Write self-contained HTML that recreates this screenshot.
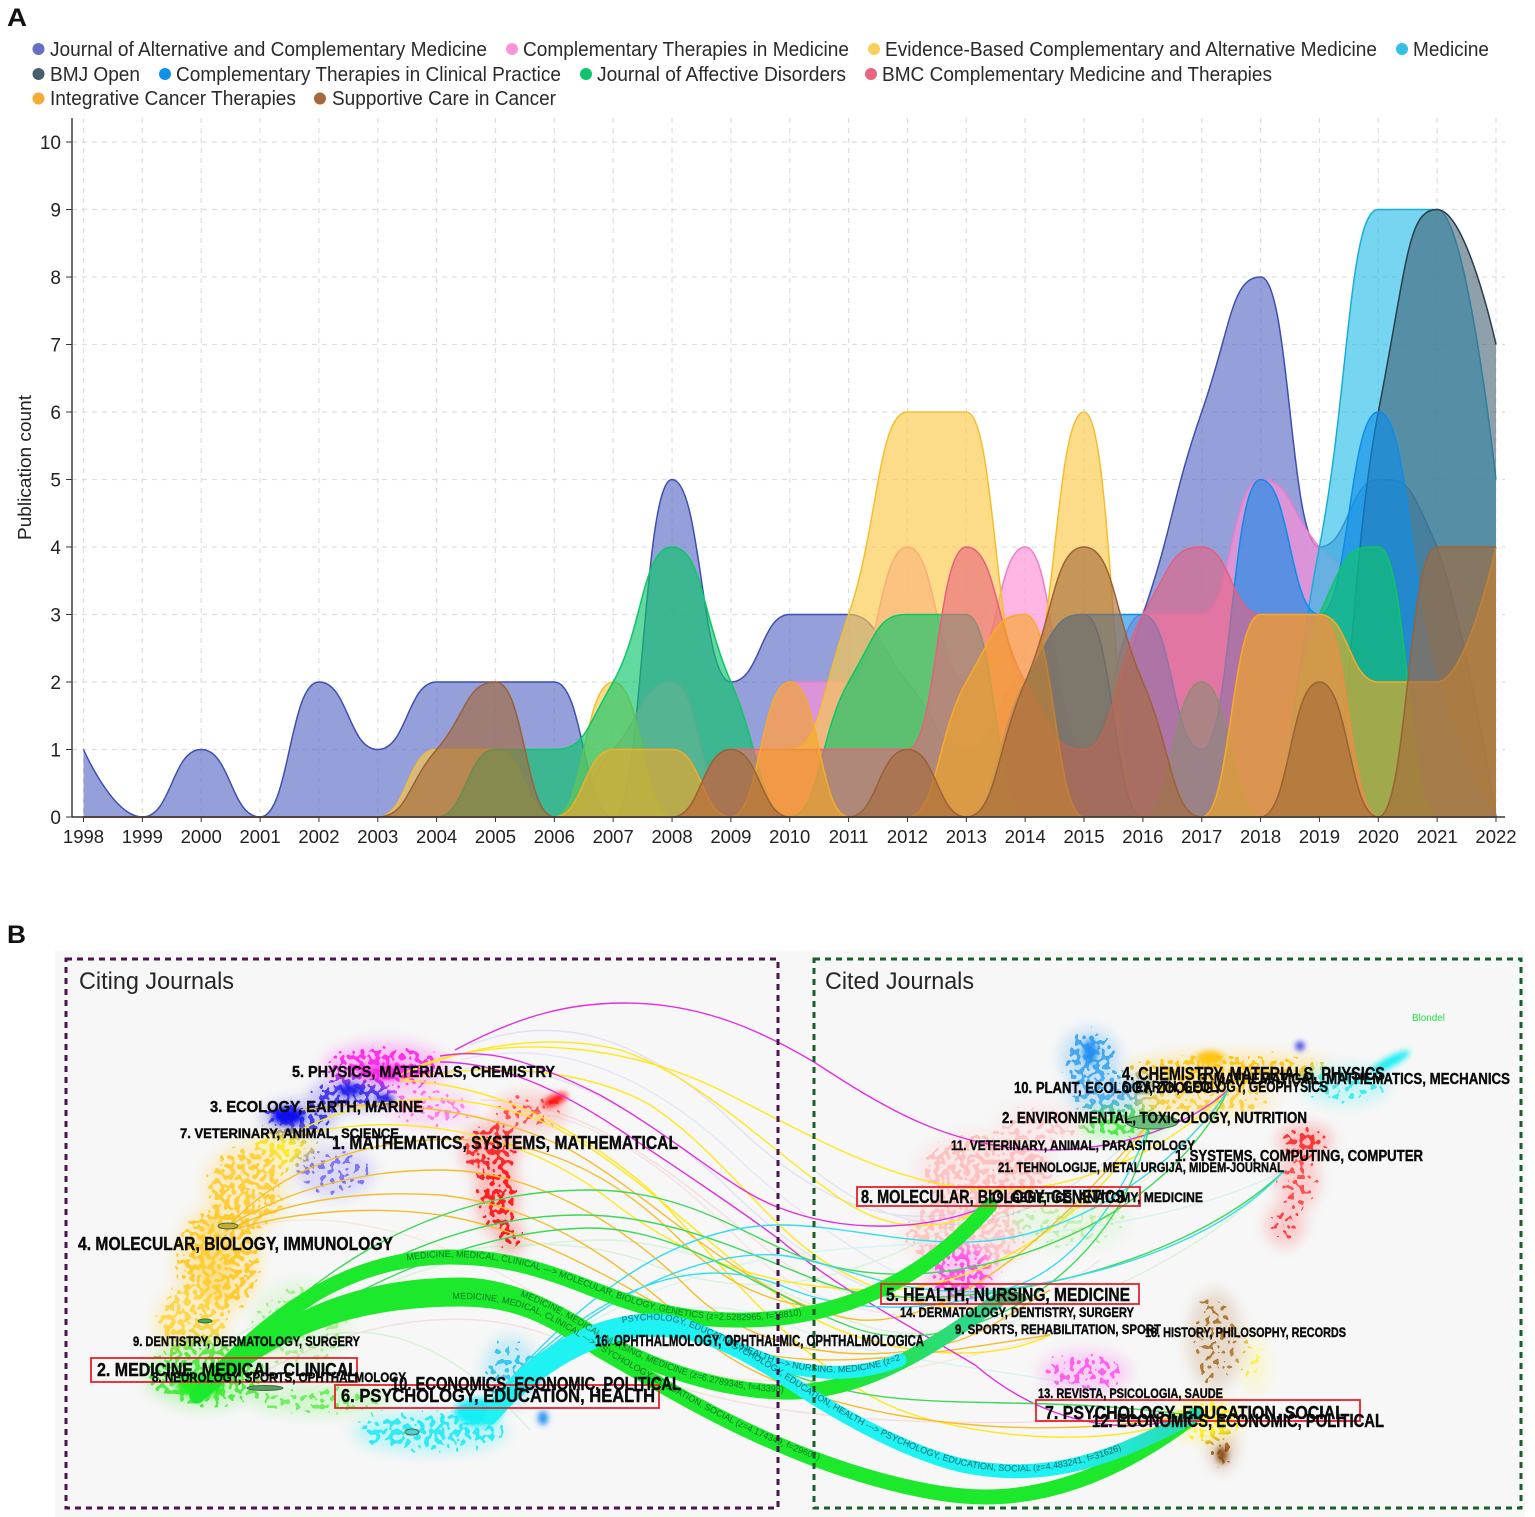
<!DOCTYPE html>
<html lang="en">
<head>
<meta charset="utf-8">
<title>Journal publication trends and dual-map overlay</title>
<style>
html,body{margin:0;padding:0;background:#fff;width:1535px;height:1517px;overflow:hidden}
svg{display:block;font-family:"Liberation Sans",sans-serif}
.lg{font-size:20px;fill:#2a2a2a}
.b{font-weight:bold;fill:#0b0b0b;stroke:#0b0b0b;stroke-width:.4px}
.big{font-size:18px}
.mid{font-size:15.5px}
.sm{font-size:13.5px}
.rt{fill:none;stroke:#e8202a;stroke-width:1.8}
.thin{fill:none;stroke-width:1.4}
.rib{fill:none;stroke-linecap:round}
.rt-text{font-size:9px;font-family:"Liberation Sans",sans-serif}
</style>
</head>
<body>
<svg id="figure" width="1535" height="1517" viewBox="0 0 1535 1517" xmlns="http://www.w3.org/2000/svg">
<defs>
<filter id="speckle" filterUnits="userSpaceOnUse" x="55" y="950" width="1470" height="567" color-interpolation-filters="sRGB">
<feGaussianBlur in="SourceGraphic" stdDeviation="7" result="soft"/>
<feColorMatrix in="soft" type="matrix" values="0 0 0 0 0  0 0 0 0 0  0 0 0 0 0  0 0 0 1 0" result="softA"/>
<feTurbulence type="fractalNoise" baseFrequency="0.2" numOctaves="1" seed="7" result="noise"/>
<feColorMatrix in="noise" type="matrix" values="0 0 0 0 0  0 0 0 0 0  0 0 0 0 0  0 0 0 1 0" result="noiseA"/>
<feComposite in="softA" in2="noiseA" operator="arithmetic" k1="0" k2="0.45" k3="1" k4="0" result="sum"/>
<feComponentTransfer in="sum" result="mask"><feFuncA type="discrete" tableValues="0 0 0 0 0 0 0 0 0 0 0 0 0 0 0 0 0 0 0 1"/></feComponentTransfer>
<feComponentTransfer in="soft" result="color"><feFuncA type="linear" slope="5"/></feComponentTransfer>
<feComposite in="color" in2="mask" operator="in" result="dotsOut"/>
<feComponentTransfer in="soft" result="pale"><feFuncA type="linear" slope="0.28"/></feComponentTransfer>
<feMerge><feMergeNode in="pale"/><feMergeNode in="dotsOut"/></feMerge>
</filter>
<filter id="soft3" filterUnits="userSpaceOnUse" x="55" y="950" width="1470" height="567"><feGaussianBlur stdDeviation="3"/></filter>
<linearGradient id="healthRibbon" gradientUnits="userSpaceOnUse" x1="840" y1="0" x2="980" y2="0"><stop offset="0" stop-color="#1ce82c"/><stop offset="1" stop-color="#30d890"/></linearGradient>
<linearGradient id="socialRibbon" gradientUnits="userSpaceOnUse" x1="1060" y1="0" x2="1180" y2="0"><stop offset="0" stop-color="#1ef2f2"/><stop offset="1" stop-color="#28dcb8"/></linearGradient>
</defs>

<text x="7" y="26" font-size="25" font-weight="bold" fill="#111" textLength="20" lengthAdjust="spacingAndGlyphs">A</text>
<text x="7" y="943" font-size="25" font-weight="bold" fill="#111" textLength="19" lengthAdjust="spacingAndGlyphs">B</text>

<g id="legend">
<g><circle cx="38.5" cy="49" r="6" fill="#6370c4"/><text class="lg" x="50" y="56" textLength="437" lengthAdjust="spacingAndGlyphs">Journal of Alternative and Complementary Medicine</text></g>
<g><circle cx="512" cy="49" r="6" fill="#ff94d5"/><text class="lg" x="523" y="56" textLength="326" lengthAdjust="spacingAndGlyphs">Complementary Therapies in Medicine</text></g>
<g><circle cx="874" cy="49" r="6" fill="#fbcf5c"/><text class="lg" x="885" y="56" textLength="492" lengthAdjust="spacingAndGlyphs">Evidence-Based Complementary and Alternative Medicine</text></g>
<g><circle cx="1402" cy="49" r="6" fill="#30c0e8"/><text class="lg" x="1413" y="56" textLength="76" lengthAdjust="spacingAndGlyphs">Medicine</text></g>
<g><circle cx="38.5" cy="74" r="6" fill="#46606f"/><text class="lg" x="50" y="81" textLength="90" lengthAdjust="spacingAndGlyphs">BMJ Open</text></g>
<g><circle cx="165" cy="74" r="6" fill="#1190ea"/><text class="lg" x="176" y="81" textLength="385" lengthAdjust="spacingAndGlyphs">Complementary Therapies in Clinical Practice</text></g>
<g><circle cx="586" cy="74" r="6" fill="#10c46c"/><text class="lg" x="597" y="81" textLength="249" lengthAdjust="spacingAndGlyphs">Journal of Affective Disorders</text></g>
<g><circle cx="871" cy="74" r="6" fill="#e8647f"/><text class="lg" x="882" y="81" textLength="390" lengthAdjust="spacingAndGlyphs">BMC Complementary Medicine and Therapies</text></g>
<g><circle cx="38.5" cy="98.5" r="6" fill="#f5ab35"/><text class="lg" x="50" y="105" textLength="246" lengthAdjust="spacingAndGlyphs">Integrative Cancer Therapies</text></g>
<g><circle cx="320" cy="98.5" r="6" fill="#a5693a"/><text class="lg" x="332" y="105" textLength="224" lengthAdjust="spacingAndGlyphs">Supportive Care in Cancer</text></g>
</g>

<g id="chart-a">
<g id="grid"></g>
<g id="areas"></g>
<g id="axes"></g>
<text transform="translate(31,540) rotate(-90)" font-size="18.5" fill="#222" textLength="145" lengthAdjust="spacingAndGlyphs">Publication count</text>
</g>

<g id="chart-b">
<rect x="55" y="950" width="1470" height="567" fill="#f7f7f7"/>

<g filter="url(#speckle)">
<ellipse cx="385" cy="1066" rx="62" ry="24" fill="#ff30ea"/>
<ellipse cx="350" cy="1095" rx="42" ry="16" fill="#4a3cf0"/>
<ellipse cx="430" cy="1108" rx="45" ry="20" fill="#ff80ea" opacity=".85"/>
<ellipse cx="298" cy="1118" rx="38" ry="18" fill="#4040ea"/>
<ellipse cx="280" cy="1150" rx="36" ry="20" fill="#ffe92a"/>
<ellipse cx="335" cy="1172" rx="40" ry="26" fill="#8078f0" opacity=".85"/>
<ellipse cx="245" cy="1190" rx="42" ry="46" fill="#ffcf40"/>
<ellipse cx="218" cy="1260" rx="44" ry="56" fill="#ffcb30"/>
<ellipse cx="192" cy="1325" rx="38" ry="42" fill="#ffd64a"/>
<ellipse cx="205" cy="1375" rx="62" ry="34" fill="#55e84a"/>
<ellipse cx="300" cy="1325" rx="50" ry="45" fill="#a8ef90" opacity=".8"/>
<ellipse cx="320" cy="1400" rx="70" ry="16" fill="#70ee60" opacity=".9"/>
<ellipse cx="490" cy="1150" rx="30" ry="28" fill="#ff3030"/>
<ellipse cx="497" cy="1195" rx="22" ry="40" fill="#ff2020"/>
<ellipse cx="510" cy="1238" rx="14" ry="18" fill="#f02020"/>
<ellipse cx="530" cy="1112" rx="38" ry="20" fill="#ff5555" opacity=".85"/>
<ellipse cx="430" cy="1432" rx="78" ry="22" fill="#30eaf5"/>
<ellipse cx="510" cy="1372" rx="28" ry="36" fill="#38c8f0" opacity=".9"/>
<ellipse cx="1090" cy="1058" rx="30" ry="30" fill="#45a8f0"/>
<ellipse cx="1115" cy="1095" rx="50" ry="20" fill="#55b0f0"/>
<ellipse cx="1230" cy="1068" rx="105" ry="16" fill="#ffc820"/>
<ellipse cx="1205" cy="1100" rx="70" ry="20" fill="#ffd040" opacity=".9"/>
<ellipse cx="1345" cy="1085" rx="45" ry="20" fill="#40ecf0" opacity=".9"/>
<ellipse cx="1120" cy="1125" rx="45" ry="16" fill="#50e84a"/>
<ellipse cx="1040" cy="1125" rx="45" ry="22" fill="#ffc8c8" opacity=".85"/>
<ellipse cx="985" cy="1170" rx="70" ry="38" fill="#ffc0c0"/>
<ellipse cx="965" cy="1235" rx="62" ry="40" fill="#ffc6c6"/>
<ellipse cx="1070" cy="1220" rx="60" ry="30" fill="#c0f0b0" opacity=".8"/>
<ellipse cx="1305" cy="1140" rx="28" ry="16" fill="#ff3535"/>
<ellipse cx="1298" cy="1180" rx="22" ry="32" fill="#ff5050" opacity=".85"/>
<ellipse cx="1285" cy="1225" rx="20" ry="22" fill="#ff4040" opacity=".85"/>
<ellipse cx="960" cy="1275" rx="34" ry="28" fill="#ff50e8"/>
<ellipse cx="1085" cy="1372" rx="46" ry="22" fill="#ff60ee" opacity=".9"/>
<ellipse cx="1215" cy="1340" rx="28" ry="50" fill="#b07a3a" opacity=".8"/>
<ellipse cx="1222" cy="1445" rx="14" ry="26" fill="#a05a20"/>
<ellipse cx="1205" cy="1420" rx="38" ry="22" fill="#fff020"/>
<ellipse cx="1255" cy="1365" rx="14" ry="30" fill="#fff45a" opacity=".8"/>
</g>

<g filter="url(#soft3)">
<ellipse cx="288" cy="1116" rx="16" ry="9" fill="#1010f0"/>
<ellipse cx="350" cy="1090" rx="12" ry="6" fill="#2020e8"/>
<ellipse cx="385" cy="1100" rx="9" ry="5" fill="#2020e8"/>
<ellipse cx="385" cy="1072" rx="28" ry="8" fill="#ff20e8" opacity=".8"/>
<ellipse cx="555" cy="1100" rx="13" ry="5" transform="rotate(-25 555 1100)" fill="#ff1010"/>
<ellipse cx="200" cy="1385" rx="24" ry="12" fill="#22ee22"/>
<ellipse cx="215" cy="1260" rx="18" ry="44" fill="#ffce30" opacity=".35"/>
<ellipse cx="478" cy="1412" rx="24" ry="14" fill="#18eef5"/>
<ellipse cx="530" cy="1380" rx="10" ry="8" fill="#2090f0"/>
<ellipse cx="543" cy="1418" rx="5" ry="7" fill="#2090f0"/>
<ellipse cx="1390" cy="1062" rx="22" ry="5" transform="rotate(-28 1390 1062)" fill="#18eef5"/>
<ellipse cx="1210" cy="1058" rx="14" ry="7" fill="#ffc410"/>
<ellipse cx="1090" cy="1052" rx="7" ry="12" fill="#2090f0"/>
<ellipse cx="1300" cy="1046" rx="4" ry="4" fill="#1010e0"/>
<ellipse cx="1222" cy="1455" rx="5" ry="8" fill="#8a4a10"/>
</g>

<g opacity=".35">
<path class="thin" stroke="#b8b8f0" d="M470,1045 C560,1010 640,1040 720,1110 C800,1190 880,1240 990,1205"/>
<path class="thin" stroke="#b8b8f0" d="M430,1075 C540,1045 640,1110 720,1180 C800,1260 900,1330 1015,1300"/>
<path class="thin" stroke="#f0b0b0" d="M250,1380 C350,1320 470,1300 560,1340 C680,1400 820,1440 1190,1415"/>
<path class="thin" stroke="#f0b0b0" d="M480,1100 C600,1100 690,1190 780,1260 C860,1320 960,1300 1020,1280"/>
<path class="thin" stroke="#a0e8a0" d="M230,1375 C340,1305 430,1320 530,1430"/>
<path class="thin" stroke="#a0e8a0" d="M197,1396 C330,1290 470,1240 610,1240 C720,1245 800,1310 880,1330 C990,1350 1180,1280 1285,1170"/>
<path class="thin" stroke="#a0e8e8" d="M505,1385 C620,1300 720,1290 800,1330 C900,1370 1080,1370 1190,1415"/>
<path class="thin" stroke="#f0d0a0" d="M240,1230 C330,1200 460,1240 560,1310 C690,1400 820,1400 1050,1335"/>
<path class="thin" stroke="#b8b8f0" d="M814,1170 C900,1240 1010,1260 1150,1122"/>
<path class="thin" stroke="#ffe080" d="M780,1240 C860,1300 1050,1320 1228,1090"/>
<path class="thin" stroke="#c8c8f0" d="M460,1060 C580,1030 680,1100 750,1170 C820,1230 900,1290 1050,1335"/>
<path class="thin" stroke="#f0c0c0" d="M520,1110 C620,1120 700,1200 760,1260 C840,1330 1000,1340 1100,1260"/>
<path class="thin" stroke="#a0e8a0" d="M230,1340 C360,1260 520,1220 640,1260 C760,1310 860,1280 990,1205"/>
<path class="thin" stroke="#a0e8e8" d="M520,1370 C620,1290 730,1260 830,1250 C940,1240 1150,1240 1285,1170"/>
</g>

<g>
<path class="thin" stroke="#ffe81a" d="M400,1075 C480,1040 560,1035 620,1050 C700,1075 780,1160 850,1205 C900,1235 950,1230 990,1205"/>
<path class="thin" stroke="#ffe81a" d="M400,1080 C490,1060 590,1070 650,1105 C720,1150 770,1230 830,1265 C890,1300 960,1320 1015,1300"/>
<path class="thin" stroke="#ffe81a" d="M300,1130 C380,1090 470,1090 550,1125 C640,1170 720,1260 800,1310 C860,1350 980,1370 1050,1335"/>
<path class="thin" stroke="#ffe81a" d="M400,1080 C500,1085 580,1130 650,1190 C720,1260 800,1370 900,1410 C980,1440 1120,1450 1190,1415"/>
<path class="thin" stroke="#ffe81a" d="M420,1065 C520,1030 640,1050 720,1090 C820,1140 900,1190 1000,1190 C1080,1190 1170,1150 1228,1090"/>
<path class="thin" stroke="#ffe81a" d="M300,1135 C400,1110 520,1130 610,1200 C700,1270 790,1290 880,1290 C980,1290 1090,1220 1150,1122"/>
<path class="thin" stroke="#f5bd2c" d="M230,1225 C270,1180 340,1145 430,1140 C520,1135 600,1160 680,1240 C730,1290 800,1320 860,1300 C910,1280 960,1250 990,1205"/>
<path class="thin" stroke="#f5bd2c" d="M230,1225 C280,1195 350,1170 440,1170 C530,1170 620,1220 690,1290 C750,1350 860,1370 960,1340 C1000,1325 1030,1300 1050,1290"/>
<path class="thin" stroke="#f5bd2c" d="M232,1228 C290,1200 360,1190 440,1195 C540,1205 620,1260 700,1335 C780,1410 1000,1450 1190,1415"/>
<path class="thin" stroke="#f5bd2c" d="M232,1230 C290,1212 370,1205 440,1215 C540,1230 630,1290 720,1340 C800,1380 950,1350 1050,1335"/>
<path class="thin" stroke="#f5bd2c" d="M300,1110 C400,1095 500,1115 570,1150 C660,1200 760,1310 860,1320 C950,1325 1050,1240 1150,1122"/>
<path class="thin" stroke="#e22fe0" d="M455,1050 C520,1015 570,1003 625,1003 C700,1003 760,1030 814,1062 C880,1105 950,1150 1048,1150 C1120,1150 1190,1125 1228,1090"/>
<path class="thin" stroke="#e22fe0" d="M440,1056 C490,1048 530,1060 600,1095 C680,1140 730,1190 780,1208 C850,1235 930,1230 990,1205"/>
<path class="thin" stroke="#e22fe0" d="M440,1062 C500,1062 560,1090 620,1130 C680,1170 740,1210 780,1240 C840,1290 900,1320 975,1365 C1040,1420 1120,1440 1190,1415"/>
<path class="thin" stroke="#3fd85a" d="M197,1396 C300,1280 420,1190 590,1190 C690,1190 750,1240 810,1260 C900,1290 1010,1270 1100,1220 C1170,1180 1210,1130 1228,1090"/>
<path class="thin" stroke="#3fd85a" d="M197,1396 C310,1290 440,1215 580,1215 C680,1215 760,1260 830,1285 C930,1320 1170,1280 1285,1170"/>
<path class="thin" stroke="#3fd85a" d="M197,1396 C320,1300 460,1230 590,1228 C690,1228 770,1300 860,1330 C960,1360 1120,1280 1150,1122"/>
<path class="thin" stroke="#3fd85a" d="M780,1370 C900,1420 1000,1390 1190,1415"/>
<path class="thin" stroke="#36dcec" d="M505,1385 C590,1290 680,1225 780,1225 C860,1225 950,1260 1040,1230 C1110,1210 1190,1150 1228,1090"/>
<path class="thin" stroke="#36dcec" d="M505,1385 C600,1300 690,1250 780,1255 C850,1265 900,1300 1000,1290 C1110,1275 1220,1240 1285,1170"/>
<path class="thin" stroke="#36dcec" d="M510,1380 C610,1280 700,1255 780,1285 C860,1320 960,1310 1030,1280 C1090,1250 1130,1180 1150,1122"/>
</g>

<g>
<path id="rib-mol" class="rib" stroke="#1ce82c" stroke-width="15" d="M197,1396 C265,1318 345,1257 450,1257 C530,1257 575,1285 632,1303 C690,1322 740,1322 780,1318 C850,1310 925,1280 990,1205"/>
<path id="rib-psy" class="rib" stroke="#1ce82c" stroke-width="15" d="M197,1396 C270,1330 350,1299 460,1299 C520,1299 550,1318 600,1350 C660,1385 720,1420 780,1445 C850,1475 930,1497 985,1497 C1060,1497 1130,1465 1195,1415"/>
<path id="rib-hea" class="rib" stroke="url(#healthRibbon)" stroke-width="15" d="M197,1396 C270,1325 350,1285 460,1285 C520,1285 570,1320 609,1343 C660,1370 720,1390 780,1392 C860,1395 930,1350 1005,1295"/>
<path id="rib-cya2" class="rib" stroke="url(#socialRibbon)" stroke-width="14" d="M490,1418 C525,1378 585,1332 650,1330 C700,1328 740,1350 780,1375 C830,1410 900,1450 960,1465 C1050,1485 1120,1455 1195,1415"/>
<path id="rib-cya1" class="rib" stroke="#1ef2f2" stroke-width="13" d="M498,1402 C525,1368 580,1322 650,1320 C690,1318 720,1345 780,1365 C830,1378 870,1372 900,1360"/>
<text class="rt-text" fill="#0a7a25"><textPath href="#rib-mol" startOffset="255">MEDICINE, MEDICAL, CLINICAL ---&gt; MOLECULAR, BIOLOGY, GENETICS (z=2.5282965, f=18810)</textPath></text>
<text class="rt-text" fill="#0a7a25"><textPath href="#rib-psy" startOffset="280">MEDICINE, MEDICAL, CLINICAL ---&gt; PSYCHOLOGY, EDUCATION, SOCIAL (z=4.174349, f=29601)</textPath></text>
<text class="rt-text" fill="#0a7a25"><textPath href="#rib-hea" startOffset="355">MEDICINE, MEDICAL, NURSING, MEDICINE (z=6.2789345, f=43398)</textPath></text>
<text class="rt-text" fill="#0b6a70"><textPath href="#rib-cya2" startOffset="265">PSYCHOLOGY, EDUCATION, HEALTH ---&gt; PSYCHOLOGY, EDUCATION, SOCIAL (z=4.483241, f=31626)</textPath></text>
<text class="rt-text" fill="#0b6a70"><textPath href="#rib-cya1" startOffset="150">PSYCHOLOGY, EDUCATION, HEALTH ---&gt; NURSING, MEDICINE (z=2.57, f=2988)</textPath></text>
</g>

<g fill="none" stroke="#3b6f45" stroke-width="1">
<ellipse cx="228" cy="1226" rx="10" ry="3" fill="#c9a93a"/>
<ellipse cx="205" cy="1321" rx="7" ry="2" fill="#3fae4a"/>
<ellipse cx="265" cy="1388" rx="18" ry="2.5" fill="#5c9a60"/>
<ellipse cx="412" cy="1432" rx="7" ry="3" fill="#50cfcf"/>
<ellipse cx="1152" cy="1122" rx="26" ry="7" fill="#6cbf7a"/>
<ellipse cx="1010" cy="1298" rx="16" ry="6" fill="#5fa86c"/>
</g>

<rect x="66" y="959" width="712" height="549" fill="none" stroke="#4b1450" stroke-width="3" stroke-dasharray="6 5"/>
<rect x="814" y="959" width="707" height="549" fill="none" stroke="#1a5e2a" stroke-width="3" stroke-dasharray="6 5"/>
<text x="79" y="989" font-size="24" fill="#262626" textLength="155" lengthAdjust="spacingAndGlyphs">Citing Journals</text>
<text x="825" y="989" font-size="24" fill="#262626" textLength="149" lengthAdjust="spacingAndGlyphs">Cited Journals</text>
<text x="1412" y="1021" font-size="10" fill="#20e040" textLength="33" lengthAdjust="spacingAndGlyphs">Blondel</text>

<g>
<rect class="rt" x="91" y="1358" width="266" height="24"/>
<rect class="rt" x="335" y="1385" width="324" height="23"/>
<rect class="rt" x="857" y="1187" width="283" height="19"/>
<rect class="rt" x="881" y="1284" width="258" height="20"/>
<rect class="rt" x="1036" y="1400" width="324" height="21"/>
</g>

<g>
<text class="b mid" x="292" y="1077" textLength="263" lengthAdjust="spacingAndGlyphs">5. PHYSICS, MATERIALS, CHEMISTRY</text>
<text class="b mid" x="210" y="1112" textLength="213" lengthAdjust="spacingAndGlyphs">3. ECOLOGY, EARTH, MARINE</text>
<text class="b sm" x="180" y="1138" textLength="219" lengthAdjust="spacingAndGlyphs">7. VETERINARY, ANIMAL, SCIENCE</text>
<text class="b big" x="332" y="1149" textLength="346" lengthAdjust="spacingAndGlyphs">1. MATHEMATICS, SYSTEMS, MATHEMATICAL</text>
<text class="b big" x="78" y="1250" textLength="315" lengthAdjust="spacingAndGlyphs">4. MOLECULAR, BIOLOGY, IMMUNOLOGY</text>
<text class="b sm" x="133" y="1346" textLength="227" lengthAdjust="spacingAndGlyphs">9. DENTISTRY, DERMATOLOGY, SURGERY</text>
<text class="b big" x="97" y="1376" textLength="261" lengthAdjust="spacingAndGlyphs">2. MEDICINE, MEDICAL, CLINICAL</text>
<text class="b sm" x="152" y="1382" textLength="254" lengthAdjust="spacingAndGlyphs">8. NEUROLOGY, SPORTS, OPHTHALMOLOGY</text>
<text class="b big" x="391" y="1390" textLength="290" lengthAdjust="spacingAndGlyphs">10. ECONOMICS, ECONOMIC, POLITICAL</text>
<text class="b big" x="341" y="1402" textLength="314" lengthAdjust="spacingAndGlyphs">6. PSYCHOLOGY, EDUCATION, HEALTH</text>
<text class="b mid" x="595" y="1346" textLength="329" lengthAdjust="spacingAndGlyphs">16. OPHTHALMOLOGY, OPHTHALMIC, OPHTHALMOLOGICA</text>
</g>

<g>
<text class="b big" x="1122" y="1080" textLength="263" lengthAdjust="spacingAndGlyphs">4. CHEMISTRY, MATERIALS, PHYSICS</text>
<text class="b mid" x="1199" y="1084" textLength="311" lengthAdjust="spacingAndGlyphs">3. MATHEMATICAL, MATHEMATICS, MECHANICS</text>
<text class="b mid" x="1014" y="1093" textLength="208" lengthAdjust="spacingAndGlyphs">10. PLANT, ECOLOGY, ZOOLOGY</text>
<text class="b mid" x="1122" y="1092" textLength="206" lengthAdjust="spacingAndGlyphs">6. EARTH, GEOLOGY, GEOPHYSICS</text>
<text class="b mid" x="1002" y="1123" textLength="305" lengthAdjust="spacingAndGlyphs">2. ENVIRONMENTAL, TOXICOLOGY, NUTRITION</text>
<text class="b sm" x="951" y="1150" textLength="244" lengthAdjust="spacingAndGlyphs">11. VETERINARY, ANIMAL, PARASITOLOGY</text>
<text class="b mid" x="1175" y="1161" textLength="248" lengthAdjust="spacingAndGlyphs">1. SYSTEMS, COMPUTING, COMPUTER</text>
<text class="b sm" x="998" y="1172" textLength="286" lengthAdjust="spacingAndGlyphs">21. TEHNOLOGIJE, METALURGIJA, MIDEM-JOURNAL</text>
<text class="b sm" x="990" y="1202" textLength="213" lengthAdjust="spacingAndGlyphs">19. GENETICS, ANATOMY, MEDICINE</text>
<text class="b big" x="861" y="1203" textLength="264" lengthAdjust="spacingAndGlyphs">8. MOLECULAR, BIOLOGY, GENETICS</text>
<text class="b big" x="886" y="1301" textLength="244" lengthAdjust="spacingAndGlyphs">5. HEALTH, NURSING, MEDICINE</text>
<text class="b sm" x="900" y="1317" textLength="234" lengthAdjust="spacingAndGlyphs">14. DERMATOLOGY, DENTISTRY, SURGERY</text>
<text class="b sm" x="955" y="1334" textLength="206" lengthAdjust="spacingAndGlyphs">9. SPORTS, REHABILITATION, SPORT</text>
<text class="b sm" x="1145" y="1337" textLength="201" lengthAdjust="spacingAndGlyphs">18. HISTORY, PHILOSOPHY, RECORDS</text>
<text class="b sm" x="1038" y="1398" textLength="185" lengthAdjust="spacingAndGlyphs">13. REVISTA, PSICOLOGIA, SAUDE</text>
<text class="b big" x="1045" y="1419" textLength="300" lengthAdjust="spacingAndGlyphs">7. PSYCHOLOGY, EDUCATION, SOCIAL</text>
<text class="b big" x="1092" y="1427" textLength="292" lengthAdjust="spacingAndGlyphs">12. ECONOMICS, ECONOMIC, POLITICAL</text>
</g>
</g>
</svg>

<script>
const years = [1998,1999,2000,2001,2002,2003,2004,2005,2006,2007,2008,2009,2010,2011,2012,2013,2014,2015,2016,2017,2018,2019,2020,2021,2022];
const yTicks = [0,1,2,3,4,5,6,7,8,9,10];
const journalAltCompMed = [1,0,1,0,2,1,2,2,2,0,5,2,3,3,2,1,2,1,3,6,8,4,5,4,0];
const compTherMed = [0,0,0,0,0,0,0,0,0,1,2,0,2,2,4,2,4,1,3,3,5,4,3,0,0];
const evidenceBased = [0,0,0,0,0,0,1,1,0,2,0,1,1,3,6,6,2,6,0,0,3,3,0,0,0];
const medicine = [0,0,0,0,0,0,0,0,0,0,0,0,0,0,0,0,0,0,0,0,0,4,9,9,5];
const bmjOpen = [0,0,0,0,0,0,0,0,0,0,0,0,0,0,0,0,2,3,0,0,0,0,6,9,7];
const compTherClinPrac = [0,0,0,0,0,0,0,0,0,0,0,0,0,0,0,0,2,3,3,1,5,3,6,2,0];
const affectiveDisorders = [0,0,0,0,0,0,0,1,1,2,4,2,0,2,3,3,0,0,0,2,0,3,4,0,0];
const bmcCompMed = [0,0,0,0,0,0,0,0,0,0,0,1,1,1,1,4,2,1,3,4,3,3,0,0,0];
const integrativeCancer = [0,0,0,0,0,0,0,0,0,1,1,0,2,0,0,2,3,0,0,0,3,3,2,2,4];
const supportiveCare = [0,0,0,0,0,0,1,2,0,0,0,1,0,0,1,0,2,4,2,0,0,2,0,4,4];

const seriesOrder = [
  {key:'journal-alt-comp-med', values:journalAltCompMed, color:'#5c6bc5', line:'#3f4fb0', alpha:0.65},
  {key:'comp-ther-med', values:compTherMed, color:'#ff8fd6', line:'#f07cc8', alpha:0.65},
  {key:'evidence-based', values:evidenceBased, color:'#fbc94a', line:'#f7bd2e', alpha:0.65},
  {key:'medicine', values:medicine, color:'#2dbfe8', line:'#18aed8', alpha:0.65},
  {key:'bmj-open', values:bmjOpen, color:'#3f5c6e', line:'#2a3f4c', alpha:0.58},
  {key:'comp-ther-clin-prac', values:compTherClinPrac, color:'#0d8de8', line:'#0d8de8', alpha:0.62},
  {key:'affective-disorders', values:affectiveDisorders, color:'#0ec56c', line:'#0cc766', alpha:0.65},
  {key:'bmc-comp-med', values:bmcCompMed, color:'#e8627e', line:'#e65f7c', alpha:0.6},
  {key:'integrative-cancer', values:integrativeCancer, color:'#f5a623', line:'#f6ab2a', alpha:0.62},
  {key:'supportive-care', values:supportiveCare, color:'#a5693a', line:'#9a6236', alpha:0.62}
];

const SVGNS = 'http://www.w3.org/2000/svg';
const x0 = 83.5, xStep = (1496 - 83.5) / (years[years.length - 1] - years[0]);
const y0 = 817, yUnit = 67.5;
function xScale(year) { return x0 + (year - years[0]) * xStep; }
function yScale(v) { return y0 - v * yUnit; }
function make(tag, attrs) {
  const el = document.createElementNS(SVGNS, tag);
  for (const k in attrs) el.setAttribute(k, attrs[k]);
  return el;
}

function smoothPath(values) {
  const pts = values.map((v, i) => [xScale(years[i]), yScale(v)]);
  let d = 'M' + pts[0][0].toFixed(1) + ',' + pts[0][1].toFixed(1);
  const tangent = i => {
    if (i === 0 || i === pts.length - 1) return 0;
    const prev = pts[i - 1][1], next = pts[i + 1][1], cur = pts[i][1];
    if ((cur - prev) * (next - cur) <= 0) return 0;
    return (next - prev) * 0.25;
  };
  for (let i = 0; i < pts.length - 1; i++) {
    const a = pts[i], b = pts[i + 1];
    const lo = Math.min(a[1], b[1]), hi = Math.max(a[1], b[1]);
    const c1y = Math.max(lo, Math.min(hi, a[1] + tangent(i)));
    const c2y = Math.max(lo, Math.min(hi, b[1] - tangent(i + 1)));
    const mx = (a[0] + b[0]) / 2;
    const c1x = i === 0 ? a[0] : mx;
    const c2x = i === pts.length - 2 ? b[0] : mx;
    d += 'C' + c1x.toFixed(1) + ',' + c1y.toFixed(1) + ' ' + c2x.toFixed(1) + ',' + c2y.toFixed(1) + ' ' + b[0].toFixed(1) + ',' + b[1].toFixed(1);
  }
  return d;
}

const gridLayer = document.getElementById('grid');
const areaLayer = document.getElementById('areas');
const axesLayer = document.getElementById('axes');

years.forEach(function (year) {
  const vLine = make('line', {x1: xScale(year), x2: xScale(year), y1: 118, y2: y0, stroke: '#dedede', 'stroke-width': 1.2, 'stroke-dasharray': '5 5'});
  
  
  gridLayer.appendChild(vLine);
  const tick = make('line', {x1: xScale(year), x2: xScale(year), y1: y0, y2: y0 + 5, stroke: '#333', 'stroke-width': 1});
  
  
  axesLayer.appendChild(tick);
  const label = make('text', {x: xScale(year), y: y0 + 26, 'text-anchor': 'middle', 'font-size': 18.5, fill: '#222'});
  
  
  label.textContent = year;
  axesLayer.appendChild(label);
});

yTicks.forEach(function (v) {
  if (v > 0) {
    const hLine = make('line', {x1: 72, x2: 1505, y1: yScale(v), y2: yScale(v), stroke: '#dedede', 'stroke-width': 1.2, 'stroke-dasharray': '5 5'});
    
    
    gridLayer.appendChild(hLine);
  }
  const tick = make('line', {x1: 66, x2: 72, y1: yScale(v), y2: yScale(v), stroke: '#333', 'stroke-width': 1});
  
  
  axesLayer.appendChild(tick);
  const label = make('text', {x: 61, y: yScale(v) + 7, 'text-anchor': 'end', 'font-size': 19, fill: '#222'});
  
  
  label.textContent = v;
  axesLayer.appendChild(label);
});

seriesOrder.forEach(function (s) {
  const line = smoothPath(s.values);
  const endX = xScale(years[years.length - 1]), startX = xScale(years[0]);
  const area = make('path', {d: line + 'L' + endX + ',' + y0 + 'L' + startX + ',' + y0 + 'Z', fill: s.color, 'fill-opacity': s.alpha, stroke: 'none'});
  
  
  areaLayer.appendChild(area);
  const stroke = make('path', {d: line, fill: 'none', stroke: s.line, 'stroke-width': 1.5});
  
  
  areaLayer.appendChild(stroke);
});

const yAxisLine = make('line', {x1: 72, x2: 72, y1: 118, y2: y0, stroke: '#333', 'stroke-width': 1.4});


axesLayer.appendChild(yAxisLine);
const xAxisLine = make('line', {x1: 72, x2: 1505, y1: y0, y2: y0, stroke: '#333', 'stroke-width': 1.4});


axesLayer.appendChild(xAxisLine);
</script>
</body>
</html>
